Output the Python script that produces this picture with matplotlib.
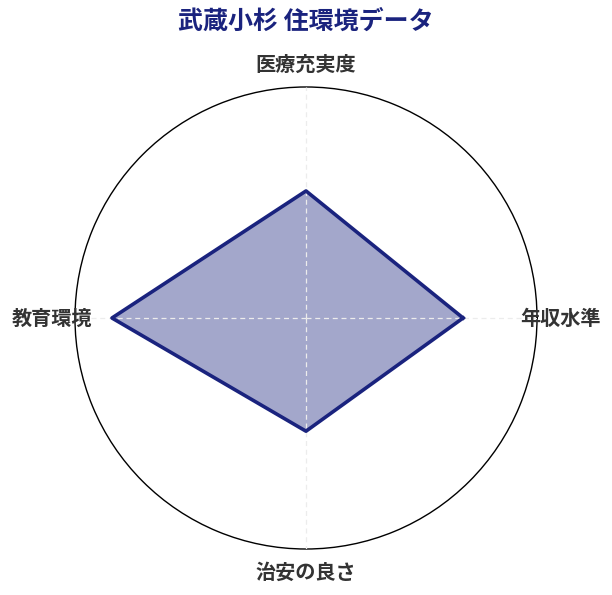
import numpy as np
import matplotlib
matplotlib.use("Agg")
import matplotlib.pyplot as plt

plt.rcParams['font.family'] = ['Noto Sans CJK JP', 'DejaVu Sans']

# データ (0-100)
labels = ['年収水準', '医療充実度', '教育環境', '治安の良さ']
values = [68, 55, 84, 49]
r_max = 100
title = '武蔵小杉 住環境データ'

navy = '#1a237e'

fig = plt.figure(figsize=(6.12, 5.95), dpi=100)
ax = fig.add_axes([0.1225, 0.0773, 0.755, 0.7765], projection='polar')

angles = np.linspace(0, 2 * np.pi, len(labels), endpoint=False)
a_closed = np.append(angles, angles[0])
v_closed = np.append(values, values[0])

ax.fill(a_closed, v_closed, color=navy, alpha=0.4, lw=0, zorder=2)
ax.plot(a_closed, v_closed, color=navy, lw=2.6, zorder=4)

# 放射状の補助線
for a in angles:
    ax.plot([a, a], [0, r_max], color='#ececec', lw=0.9, ls=(0, (4, 3)), zorder=3)

ax.set_ylim(0, r_max)
ax.set_yticks([])
ax.set_xticks([])
ax.grid(False)
ax.spines['polar'].set_color('black')
ax.spines['polar'].set_linewidth(1.0)

# 軸ラベル
for a, lab in zip(angles, labels):
    ax.text(a, r_max * 1.10, lab, ha='center', va='center',
            fontsize=14.5, fontweight='bold', color='#333333', zorder=5)

fig.text(0.5, 1 - 22 / 595, title, ha='center', va='center',
         fontsize=18, fontweight='bold', color=navy)

fig.savefig('out.png', dpi=100)
